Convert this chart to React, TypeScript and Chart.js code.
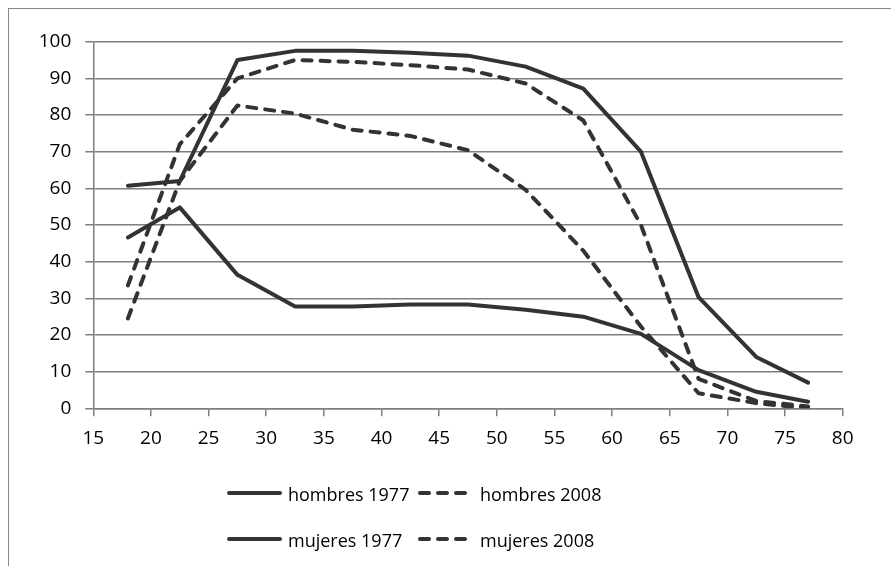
import React, { useEffect, useRef } from 'react';
import { Chart, registerables } from 'chart.js';

Chart.register(...registerables);

const ages = [18, 22.5, 27.5, 32.5, 37.5, 42.5, 47.5, 52.5, 57.5, 62.5, 67.5, 72.5, 77];
const hombres1977 = [60.7, 62, 95, 97.5, 97.5, 97, 96.2, 93.2, 87.2, 70, 30.3, 14, 7];
const hombres2008 = [33.5, 72, 90, 95, 94.5, 93.6, 92.4, 88.6, 78.5, 50, 8, 2, 0.5];
const mujeres1977 = [46.6, 54.8, 36.4, 27.8, 27.8, 28.3, 28.3, 26.9, 25, 20.3, 10.4, 4.5, 1.8];
const mujeres2008 = [24.5, 62, 82.6, 80.4, 76, 74.3, 70.4, 59.6, 43, 22.3, 4.1, 1.4, 0];

const seriesNames = ['hombres 1977', 'hombres 2008', 'mujeres 1977', 'mujeres 2008'];
const seriesValues = [hombres1977, hombres2008, mujeres1977, mujeres2008];
const seriesDashed = [false, true, false, true];

const xMin = 15;
const xMax = 80;
const xStep = 5;
const yMin = 0;
const yMax = 100;
const yStep = 10;

const LINE_COLOR = '#333333';
const GRID_COLOR = '#7f7f7f';
const FONT = "'Open Sans', 'DejaVu Sans', sans-serif";
const DASH = [9, 9];

const legendPlugin = {
  id: 'gridLegend',
  afterDraw(chart: any) {
    const ctx = chart.ctx as CanvasRenderingContext2D;
    const rowY = [484, 530];
    const colLine = [
      [220, 271],
      [411, 456],
    ];
    const colText = [279, 471];
    ctx.save();
    chart.data.datasets.forEach((ds: any, i: number) => {
      const row = Math.floor(i / 2);
      const col = i % 2;
      const y = rowY[row];
      ctx.beginPath();
      ctx.strokeStyle = ds.borderColor;
      ctx.lineWidth = ds.borderWidth;
      ctx.lineCap = 'round';
      ctx.setLineDash(ds.borderDash || []);
      ctx.moveTo(colLine[col][0], y);
      ctx.lineTo(colLine[col][1], y);
      ctx.stroke();
      ctx.setLineDash([]);
      ctx.fillStyle = '#000000';
      ctx.font = `18px ${FONT}`;
      ctx.textBaseline = 'alphabetic';
      ctx.textAlign = 'left';
      ctx.fillText(ds.label, colText[col], y + 7.5);
    });
    ctx.restore();
  },
};

export default function App() {
  const canvasRef = useRef<HTMLCanvasElement | null>(null);

  useEffect(() => {
    if (!canvasRef.current) return;
    const chart = new Chart(canvasRef.current, {
      type: 'line',
      data: {
        datasets: seriesNames.map((name, i) => ({
          label: name,
          data: ages.map((a, j) => ({ x: a, y: seriesValues[i][j] })),
          borderColor: LINE_COLOR,
          backgroundColor: LINE_COLOR,
          borderWidth: 4,
          borderDash: seriesDashed[i] ? DASH : [],
          borderCapStyle: 'round',
          borderJoinStyle: 'round',
          pointRadius: 0,
          pointHoverRadius: 0,
          tension: 0,
          fill: false,
        })),
      },
      options: {
        animation: false,
        responsive: false,
        devicePixelRatio: 1,
        layout: { padding: { top: 32.7, right: 48.3, bottom: 117.7, left: 0 } },
        plugins: {
          legend: { display: false },
          tooltip: { enabled: false },
        },
        font: { family: FONT, size: 19 },
        scales: {
          x: {
            type: 'linear',
            min: xMin,
            max: xMax,
            ticks: {
              stepSize: xStep,
              color: '#000000',
              font: { family: FONT, size: 19 },
              padding: 11,
              maxRotation: 0,
            },
            grid: {
              drawOnChartArea: false,
              drawTicks: true,
              tickLength: 8,
              color: GRID_COLOR,
              lineWidth: 1.5,
            },
            border: { display: true, color: GRID_COLOR, width: 1.5 },
            afterFit(scale: any) {
              scale.height = 40;
            },
          },
          y: {
            type: 'linear',
            min: yMin,
            max: yMax,
            ticks: {
              stepSize: yStep,
              color: '#000000',
              font: { family: FONT, size: 19 },
              padding: 14,
            },
            grid: {
              drawTicks: true,
              tickLength: 8,
              color: GRID_COLOR,
              lineWidth: 1.5,
            },
            border: { display: true, color: GRID_COLOR, width: 1.5 },
            afterFit(scale: any) {
              scale.width = 84.3;
            },
          },
        },
      } as any,
      plugins: [legendPlugin],
    });
    return () => chart.destroy();
  }, []);

  return (
    <div style={{ position: 'fixed', left: 0, top: 0, width: 891, height: 566, overflow: 'hidden', background: '#fff' }}>
      <div
        style={{
          position: 'absolute',
          left: 8,
          top: 8,
          width: 900,
          height: 600,
          border: '1px solid #888888',
          boxSizing: 'border-box',
        }}
      >
        <canvas ref={canvasRef} width={882} height={557} style={{ position: 'absolute', left: 0, top: 0, width: 882, height: 557 }} />
      </div>
    </div>
  );
}
